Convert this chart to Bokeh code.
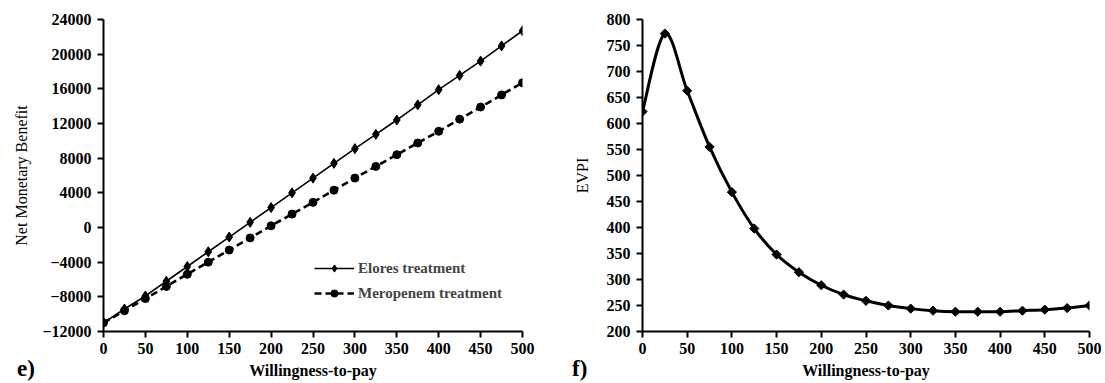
import numpy as np
from bokeh.plotting import figure
from bokeh.layouts import row, column
from bokeh.models import Range1d, FixedTicker, Legend, LegendItem, ColumnDataSource, Div
from bokeh.embed import file_html
from bokeh.resources import INLINE

# ---------------- data ----------------
wtp = [0, 25, 50, 75, 100, 125, 150, 175, 200, 225, 250, 275, 300, 325, 350,
       375, 400, 425, 450, 475, 500]
elores_nmb = [-11000, -9400, -7900, -6200, -4500, -2800, -1100, 600, 2300, 4000,
              5700, 7400, 9100, 10750, 12400, 14150, 15900, 17550, 19200, 20950, 22700]
meropenem_nmb = [-11000, -9600, -8200, -6800, -5400, -4000, -2600, -1200, 200, 1550,
                 2900, 4300, 5700, 7050, 8400, 9750, 11100, 12500, 13900, 15300, 16700]
evpi = [623, 773, 663, 555, 468, 398, 348, 314, 289, 271, 259, 250, 244, 240, 238,
        238, 238, 240, 242, 245, 250]

x_ticks = [0, 50, 100, 150, 200, 250, 300, 350, 400, 450, 500]
nmb_ticks = [-12000, -8000, -4000, 0, 4000, 8000, 12000, 16000, 20000, 24000]
evpi_ticks = [200, 250, 300, 350, 400, 450, 500, 550, 600, 650, 700, 750, 800]
panel_tags = ["e)", "f)"]

SERIF = "Liberation Serif"


def style_axes(p, xticks, yticks):
    for ax in (p.xaxis[0], p.yaxis[0]):
        ax.axis_line_width = 2
        ax.axis_line_color = "black"
        ax.major_tick_line_width = 2
        ax.major_tick_line_color = "black"
        ax.major_tick_out = 6
        ax.major_tick_in = 0
        ax.minor_tick_line_color = None
        ax.major_label_text_font = SERIF
        ax.major_label_text_font_style = "bold"
        ax.major_label_text_font_size = "16px"
        ax.major_label_text_color = "black"
        ax.axis_label_text_font = SERIF
        ax.axis_label_text_font_size = "16px"
        ax.axis_label_text_color = "black"
    p.xaxis[0].ticker = FixedTicker(ticks=xticks)
    p.yaxis[0].ticker = FixedTicker(ticks=yticks)
    p.xaxis[0].axis_label_text_font_style = "bold"
    p.yaxis[0].axis_label_text_font_style = "normal"
    p.xaxis[0].major_label_standoff = 5
    p.xaxis[0].axis_label_standoff = 5
    p.yaxis[0].major_label_standoff = 6
    p.xgrid.grid_line_color = None
    p.ygrid.grid_line_color = None
    p.outline_line_color = None


# ---------------- left chart ----------------
p1 = figure(width=560, height=383, output_backend="svg", toolbar_location=None,
            x_range=Range1d(0, 500), y_range=Range1d(-12000, 24000),
            min_border_left=103, min_border_right=38, min_border_top=19,
            min_border_bottom=52)
p1.xaxis.axis_label = "Willingness-to-pay"
p1.yaxis.axis_label = "Net Monetary Benefit"
style_axes(p1, x_ticks, nmb_ticks)
p1.yaxis[0].axis_label_standoff = 9

src1 = ColumnDataSource(dict(x=wtp, e=elores_nmb, m=meropenem_nmb))
l_e = p1.line("x", "e", source=src1, line_color="black", line_width=1.6)
s_e = p1.scatter("x", "e", source=src1, marker="diamond", size=10, color="black")
l_m = p1.line("x", "m", source=src1, line_color="black", line_width=2.6, line_dash="7 4")
s_m = p1.scatter("x", "m", source=src1, marker="circle", size=8, color="black")

leg = Legend(items=[LegendItem(label="Elores treatment", renderers=[l_e, s_e]),
                    LegendItem(label="Meropenem treatment", renderers=[l_m, s_m])],
             location=(211, 29), background_fill_alpha=0, border_line_color=None,
             label_text_font=SERIF, label_text_font_style="bold",
             label_text_font_size="15px", glyph_width=40, glyph_height=18,
             label_height=18, spacing=7, padding=4, margin=0, label_standoff=4)
p1.add_layout(leg)

# ---------------- right chart ----------------
p2 = figure(width=545, height=383, output_backend="svg", toolbar_location=None,
            x_range=Range1d(0, 500), y_range=Range1d(200, 800),
            min_border_left=82, min_border_right=16, min_border_top=18,
            min_border_bottom=52)
p2.xaxis.axis_label = "Willingness-to-pay"
p2.yaxis.axis_label = "EVPI"
style_axes(p2, x_ticks, evpi_ticks)
p2.yaxis[0].axis_label_standoff = 13

# smooth (Excel-like) curve through the EVPI points: Catmull-Rom -> cubic Bezier
X = np.array(wtp, dtype=float)
Y = np.array(evpi, dtype=float)
Xp = np.concatenate([[X[0]], X, [X[-1]]])
Yp = np.concatenate([[Y[0]], Y, [Y[-1]]])
n = len(X)
bx0, by0 = X[:-1], Y[:-1]
bx1, by1 = X[1:], Y[1:]
cx0 = X[:-1] + (Xp[2:n + 1] - Xp[0:n - 1]) / 6.0
cy0 = Y[:-1] + (Yp[2:n + 1] - Yp[0:n - 1]) / 6.0
cx1 = X[1:] - (Xp[3:n + 2] - Xp[1:n]) / 6.0
cy1 = Y[1:] - (Yp[3:n + 2] - Yp[1:n]) / 6.0
p2.bezier(x0=bx0, y0=by0, x1=bx1, y1=by1, cx0=cx0, cy0=cy0, cx1=cx1, cy1=cy1,
          line_color="black", line_width=3)
p2.scatter(wtp, evpi, marker="square", angle=np.pi / 4, size=6.5, color="black")

# panel tags e) / f) overlaid at the bottom-left of each panel
span_css = ("position:absolute;top:0px;font-family:'Liberation Serif';font-weight:bold;"
            "font-size:23px;line-height:23px;color:black;")
tags_html = ('<div style="position:relative;width:1105px;height:23px;">'
             f'<span style="{span_css}left:12px;">{panel_tags[0]}</span>'
             f'<span style="{span_css}left:567px;">{panel_tags[1]}</span>'
             '</div>')
tags = Div(text=tags_html, width=1105, height=23,
           styles={"position": "absolute", "left": "0px", "top": "352px"})

layout = column(row(p1, p2), tags)
open("out.html", "w").write(file_html(layout, INLINE))
